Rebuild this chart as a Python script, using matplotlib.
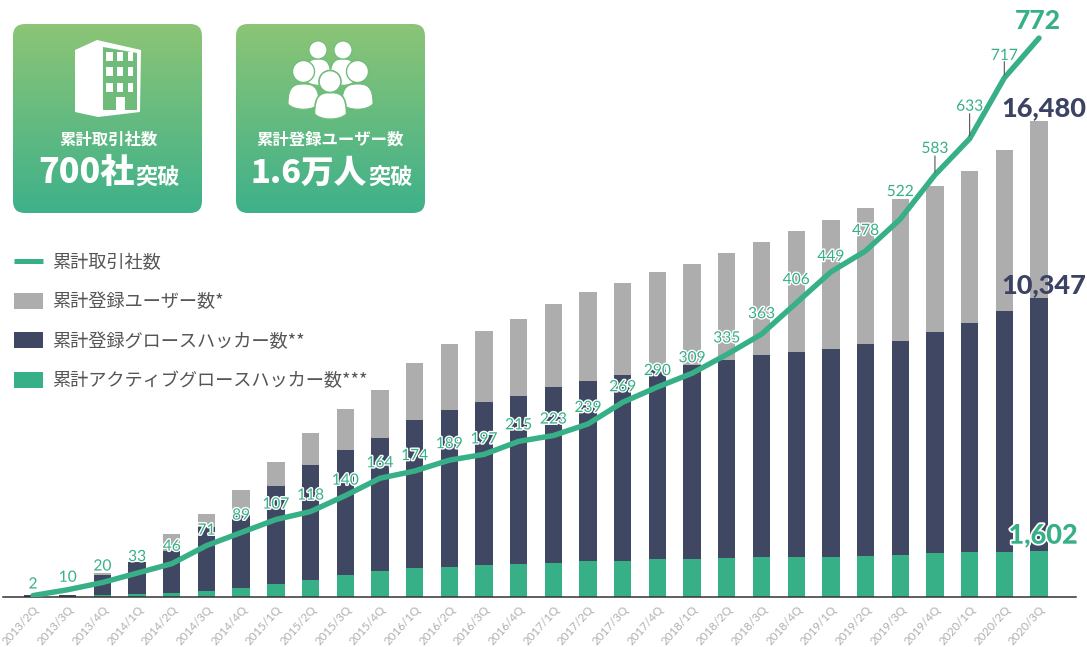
import numpy as np
import matplotlib
matplotlib.use('Agg')
import matplotlib.pyplot as plt
import matplotlib.patheffects as pe
from matplotlib.colors import LinearSegmentedColormap
from matplotlib.patches import Circle, FancyBboxPatch, PathPatch, Polygon, Rectangle
from matplotlib.path import Path
from matplotlib.transforms import ScaledTranslation

plt.rcParams['font.family'] = ['Noto Sans CJK JP', 'DejaVu Sans']

quarters = ['2013/2Q', '2013/3Q', '2013/4Q', '2014/1Q', '2014/2Q', '2014/3Q', '2014/4Q', '2015/1Q',
            '2015/2Q', '2015/3Q', '2015/4Q', '2016/1Q', '2016/2Q', '2016/3Q', '2016/4Q', '2017/1Q',
            '2017/2Q', '2017/3Q', '2017/4Q', '2018/1Q', '2018/2Q', '2018/3Q', '2018/4Q', '2019/1Q',
            '2019/2Q', '2019/3Q', '2019/4Q', '2020/1Q', '2020/2Q', '2020/3Q']
users = [80, 80, 841, 1221, 2169, 2882, 3692, 4681, 5664, 6494, 7162, 8086, 8743, 9214, 9619, 10138,
         10553, 10854, 11245, 11522, 11902, 12283, 12664, 13044, 13459, 13760, 14231, 14750, 15466, 16480]
hackers = [80, 80, 751, 1221, 1602, 2422, 2837, 3851, 4578, 5086, 5501, 6124, 6470, 6757, 6955, 7276,
           7484, 7681, 7854, 8038, 8200, 8384, 8477, 8591, 8764, 8868, 9169, 9480, 9906, 10347]
active = [0, 0, 59, 104, 149, 218, 311, 450, 599, 761, 889, 1003, 1048, 1107, 1142, 1176,
          1235, 1256, 1304, 1304, 1339, 1374, 1384, 1384, 1419, 1464, 1512, 1557, 1567, 1602]
companies = [2, 10, 20, 33, 46, 71, 89, 107, 118, 140, 164, 174, 189, 197, 215, 223,
             239, 269, 290, 309, 335, 363, 406, 449, 478, 522, 583, 633, 717, 772]

# pixels between a point of the line and its label
label_lift = [11, 12, 16, 16, 17, 15, 17, 15, 16, 15, 15, 15, 16, 15, 16, 16,
              16, 15, 16, 15, 16, 20, 23, 15, 20, 27, 26, 32, 22, 0]
leader_len = {26: 16, 27: 22, 28: 14}

legend_labels = ['累計取引社数', '累計登録ユーザー数*', '累計登録グロースハッカー数**', '累計アクティブグロースハッカー数***']

GRAY = '#adadad'
NAVY = '#3f4763'
GREEN = '#38b087'
WIDTH, HEIGHT = 1087, 647

fig = plt.figure(figsize=(WIDTH / 100, HEIGHT / 100), dpi=100)

# overlay in pixel coordinates for the cards and the legend
deco = fig.add_axes([0, 0, 1, 1], zorder=0)
deco.set_xlim(0, WIDTH)
deco.set_ylim(HEIGHT, 0)
deco.axis('off')


def draw_card(x):
    box = FancyBboxPatch((x + 12, 36), 165, 165, boxstyle='round,pad=12,rounding_size=12',
                         fc='none', ec='none')
    deco.add_patch(box)
    cmap = LinearSegmentedColormap.from_list('card', ['#8cc576', '#3eb18a'])
    grad = np.linspace(0, 1, 256).reshape(-1, 1)
    img = deco.imshow(grad, cmap=cmap, extent=(x, x + 189, 213, 24), aspect='auto', zorder=1)
    img.set_clip_path(box)


def dome(cx, top, bottom, half):
    verts = [(cx - half, bottom - 6), (cx - half, top + 2), (cx - half * 0.6, top), (cx, top),
             (cx + half * 0.6, top), (cx + half, top + 2), (cx + half, bottom - 6),
             (cx + half * 0.6, bottom + 1), (cx - half * 0.6, bottom + 1), (cx - half, bottom - 6),
             (cx - half, bottom - 6)]
    codes = [Path.MOVETO] + [Path.CURVE4] * 9 + [Path.CLOSEPOLY]
    return Path(verts, codes)


def draw_building():
    deco.add_patch(Polygon([(75, 50), (97, 40), (141, 50), (140, 112), (98, 117), (75, 112)],
                           fc='white', ec='none', zorder=2))
    deco.add_patch(Polygon([(103, 47), (137, 53), (137, 110), (103, 110)], fc='#6fbb79', ec='none', zorder=3))
    for top, bottom in [(52, 61), (67, 76), (83, 92)]:
        for left, right in [(106, 113), (117, 123), (128, 133)]:
            deco.add_patch(Rectangle((left, top), right - left, bottom - top, fc='white', ec='none', zorder=4))
    deco.add_patch(Rectangle((116, 97), 9, 15, fc='white', ec='none', zorder=4))


def draw_people():
    edge = '#70bc79'
    # back row, then the middle and the front person over it
    for cx in (318, 343):
        deco.add_patch(PathPatch(dome(cx, 59, 86, 13), fc='white', ec=edge, lw=0.8, zorder=2))
        deco.add_patch(Circle((cx, 50), 9, fc='white', ec=edge, lw=0.8, zorder=3))
    for cx in (303.5, 357.5):
        deco.add_patch(PathPatch(dome(cx, 84, 110, 15.5), fc='white', ec=edge, lw=0.8, zorder=4))
        deco.add_patch(Circle((cx, 71.5), 11, fc='white', ec=edge, lw=1.0, zorder=5))
    deco.add_patch(PathPatch(dome(330.5, 92.5, 120, 16), fc='white', ec=edge, lw=1.2, zorder=6))
    deco.add_patch(Circle((330, 81.5), 11, fc='white', ec=edge, lw=1.2, zorder=7))


def card_text(cx, title, big, big_right, big_size):
    deco.text(cx, 140, title, color='white', fontsize=11.8, fontweight='bold', ha='center', va='center', zorder=8)
    deco.text(big_right, 183, big, color='white', fontsize=big_size, fontweight=900, ha='right', va='baseline',
              zorder=8)
    deco.text(big_right + 1, 184, '突破', color='white', fontsize=16, fontweight='bold', ha='left',
              va='baseline', zorder=8)


draw_card(13)
draw_card(236)
deco.set_xlim(0, WIDTH)
deco.set_ylim(HEIGHT, 0)
draw_building()
draw_people()
card_text(108, '累計取引社数', '700社', 134, 24.5)
card_text(330, '累計登録ユーザー数', '1.6万人', 367, 23.5)

# legend
legend_y = [261, 300.5, 340, 379.5]
deco.plot([14, 43], [legend_y[0], legend_y[0]], color=GREEN, lw=3.6, solid_capstyle='butt')
for y, color in zip(legend_y[1:], [GRAY, NAVY, GREEN]):
    deco.add_patch(Rectangle((14, y - 8), 29, 16, fc=color, ec='none'))
for y, label in zip(legend_y, legend_labels):
    deco.text(52, y + 2, label, color='#555555', fontsize=13.1, ha='left', va='center')

# bars, 34.6 users per pixel above the baseline
x = np.arange(len(quarters))
left, right, base = 3, 1076, 597
step = 34.69
ax = fig.add_axes([left / WIDTH, 1 - base / HEIGHT, (right - left) / WIDTH, base / HEIGHT], zorder=1)
ax.patch.set_alpha(0)
ax.set_xlim((left - 33) / step, (right - 33) / step)
ax.set_ylim(0, base * 34.6)
ax.bar(x, users, width=0.5, color=GRAY)
ax.bar(x, hackers, width=0.5, color=NAVY)
ax.bar(x, active, width=0.5, color=GREEN)
for name in ['top', 'left', 'right']:
    ax.spines[name].set_visible(False)
ax.spines['bottom'].set_color('#333333')
ax.spines['bottom'].set_linewidth(1.1)
ax.set_yticks([])
ax.set_xticks(x)
ax.set_xticklabels(quarters, rotation=48, ha='right', va='top', rotation_mode='anchor',
                   fontsize=8.4, color='#b0b0b0', family='Lato')
shift = ScaledTranslation(5 / 100, 0, fig.dpi_scale_trans)
for tick in ax.get_xticklabels():
    tick.set_transform(tick.get_transform() + shift)
ax.tick_params(axis='x', length=0, pad=5)

halo = [pe.withStroke(linewidth=2, foreground='white')]
big_navy = dict(textcoords='offset pixels', ha='center', va='bottom', color='#3b4263',
                fontsize=19.5, fontweight=900, family='Lato')
ax.annotate(f'{users[-1]:,}', (x[-1], users[-1]), xytext=(5, 1), **big_navy)
ax.annotate(f'{hackers[-1]:,}', (x[-1], hackers[-1]), xytext=(5, 1), **big_navy)
ax.annotate(f'{active[-1]:,}', (x[-1], active[-1]), xytext=(4, 15), textcoords='offset pixels',
            ha='center', va='center', color=GREEN, fontsize=19.5, fontweight=900, family='Lato',
            path_effects=[pe.withStroke(linewidth=2.5, foreground='white')])

# line on its own scale, 0.724 pixels per company
ax2 = ax.twinx()
ax2.patch.set_alpha(0)
ax2.set_ylim(0, base / 0.724)
ax2.axis('off')
ax2.plot(x, companies, color=GREEN, lw=3.9, solid_joinstyle='round', solid_capstyle='round')
for i, lift in leader_len.items():
    ax2.annotate('', (x[i], companies[i]), xytext=(0, lift + 3), textcoords='offset pixels',
                 arrowprops=dict(arrowstyle='-', color='#555555', lw=0.8, shrinkA=0, shrinkB=2))
for i in range(len(companies) - 1):
    ax2.annotate(str(companies[i]), (x[i], companies[i]), xytext=(0, label_lift[i]), textcoords='offset pixels',
                 ha='center', va='center', color=GREEN, fontsize=11.2, family='Lato', path_effects=halo)
ax2.annotate(str(companies[-1]), (x[-1], companies[-1]), xytext=(-1, 17), textcoords='offset pixels',
             ha='center', va='center', color=GREEN, fontsize=19, fontweight=900, family='Lato')

fig.savefig('out.png', dpi=100)
